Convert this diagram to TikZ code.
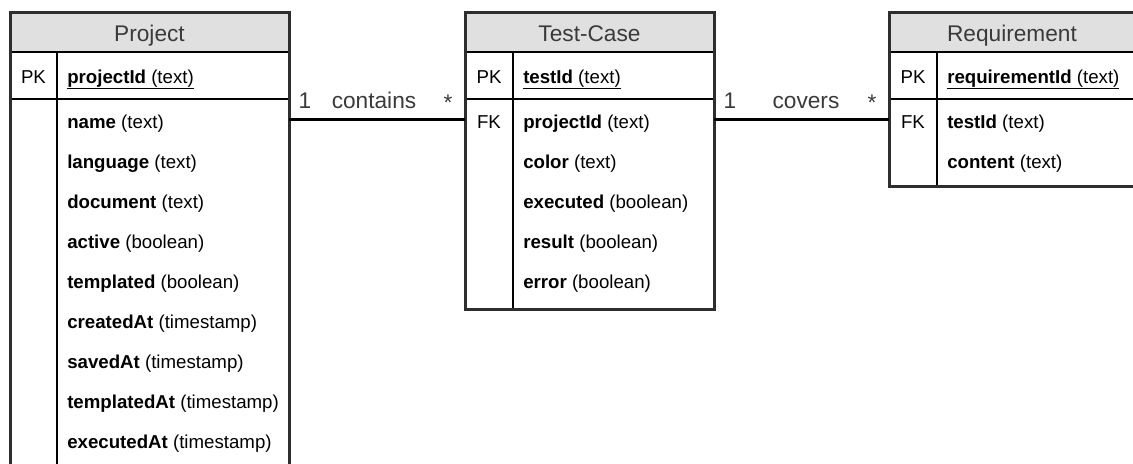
\documentclass[tikz,border=0pt]{standalone}
\usepackage{fontspec}
\setmainfont{Liberation Sans}
\definecolor{hdrfill}{HTML}{E0E0E0}
\definecolor{hdrtext}{HTML}{3A3A3A}
\definecolor{edge}{HTML}{2E2E2E}
\newcommand\fld[2]{\textbf{#1} (#2)}
\begin{document}
\begin{tikzpicture}[x=0.75pt,y=-0.75pt,
  hdr/.style={fill=hdrfill},
  outer/.style={draw=edge,line width=2.25pt},
  inner/.style={draw=black,line width=1.5pt},
  conn/.style={draw=black,line width=2.25pt},
  title/.style={anchor=base,inner sep=0pt,text=hdrtext,font=\fontsize{17}{20}\selectfont},
  keyc/.style={anchor=base,inner sep=0pt,font=\fontsize{14}{16}\selectfont},
  field/.style={anchor=base west,inner sep=0pt,font=\fontsize{14}{16}\selectfont},
  rel/.style={anchor=base,inner sep=0pt,text=hdrtext,font=\fontsize{17}{20}\selectfont}]
\useasboundingbox (0,0) rectangle (1133,464);
\clip (0,0) rectangle (1133,464);

% ---------- Project ----------
\fill[hdr] (10,12) rectangle (289,52);
\draw[inner] (10,52) -- (289,52) (10,99) -- (289,99) (57,52) -- (57,500);
\draw[outer] (10,12) rectangle (289,500);
\coordinate (projR) at (289,119);
\node[title] (projT) at (149.5,41) {Project};
\node[keyc] (projPK) at (33.5,83) {PK};
\node[field] (projF0) at (67,83) {\underline{\fld{projectId}{text}}};
\node[field] (projF1) at (67,128) {\fld{name}{text}};
\node[field] (projF2) at (67,168) {\fld{language}{text}};
\node[field] (projF3) at (67,208) {\fld{document}{text}};
\node[field] (projF4) at (67,248) {\fld{active}{boolean}};
\node[field] (projF5) at (67,288) {\fld{templated}{boolean}};
\node[field] (projF6) at (67,328) {\fld{createdAt}{timestamp}};
\node[field] (projF7) at (67,368) {\fld{savedAt}{timestamp}};
\node[field] (projF8) at (67,408) {\fld{templatedAt}{timestamp}};
\node[field] (projF9) at (67,448) {\fld{executedAt}{timestamp}};

% ---------- Test-Case ----------
\fill[hdr] (465,12) rectangle (714,52);
\draw[inner] (465,52) -- (714,52) (465,99) -- (714,99) (513,52) -- (513,309);
\draw[outer] (465,12) rectangle (714,309);
\coordinate (tcL) at (465,119);
\coordinate (tcR) at (714,119);
\node[title] (tcT) at (589.5,41) {Test-Case};
\node[keyc] (tcPK) at (489,83) {PK};
\node[keyc] (tcFK) at (489,128) {FK};
\node[field] (tcF0) at (523,83) {\underline{\fld{testId}{text}}};
\node[field] (tcF1) at (523,128) {\fld{projectId}{text}};
\node[field] (tcF2) at (523,168) {\fld{color}{text}};
\node[field] (tcF3) at (523,208) {\fld{executed}{boolean}};
\node[field] (tcF4) at (523,248) {\fld{result}{boolean}};
\node[field] (tcF5) at (523,288) {\fld{error}{boolean}};

% ---------- Requirement ----------
\fill[hdr] (889,12) rectangle (1135,52);
\draw[inner] (889,52) -- (1135,52) (889,99) -- (1135,99) (937,52) -- (937,186);
\draw[outer] (889,12) rectangle (1135,186);
\coordinate (reqL) at (889,119);
\node[title] (reqT) at (1012,41) {Requirement};
\node[keyc] (reqPK) at (913,83) {PK};
\node[keyc] (reqFK) at (913,128) {FK};
\node[field] (reqF0) at (947,83) {\underline{\fld{requirementId}{text}}};
\node[field] (reqF1) at (947,128) {\fld{testId}{text}};
\node[field] (reqF2) at (947,168) {\fld{content}{text}};

% ---------- relations ----------
\draw[conn] (projR) -- (tcL);
\node[rel] (c1) at (305,108) {1};
\node[rel] (cl) at (374,108) {contains};
\node[rel] (cs) at (448,108) {\raisebox{-2.2pt}{*}};
\draw[conn] (tcR) -- (reqL);
\node[rel] (v1) at (730,108) {1};
\node[rel] (vl) at (806,108) {covers};
\node[rel] (vs) at (872,108) {\raisebox{-2.2pt}{*}};
\end{tikzpicture}
\end{document}
